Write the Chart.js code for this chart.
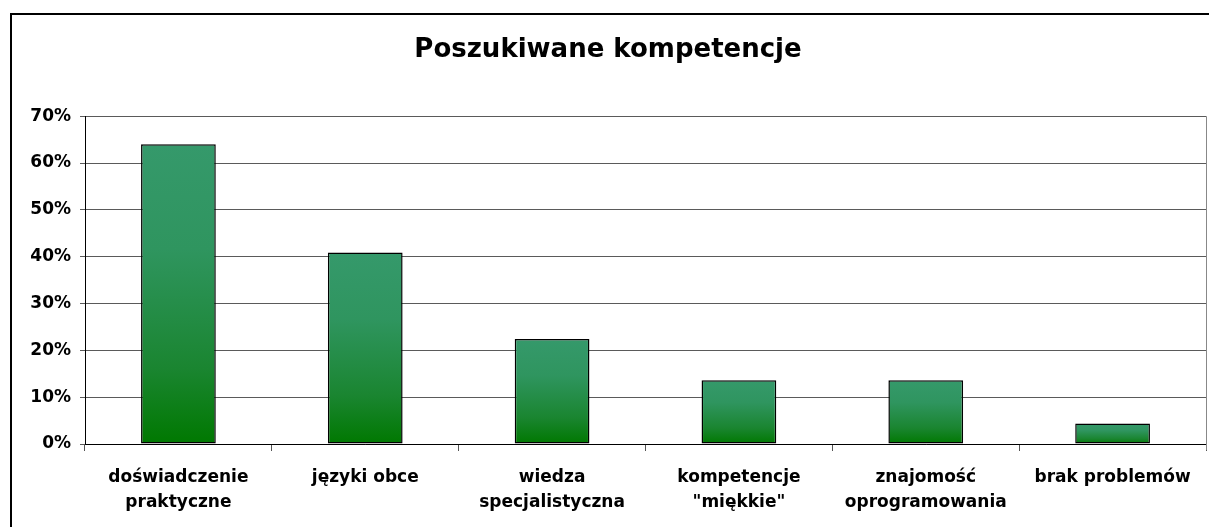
<!DOCTYPE html>
<html>
<head>
<meta charset="utf-8">
<script src="https://cdn.jsdelivr.net/npm/chart.js@4.4.1/dist/chart.umd.min.js"></script>
<style>
html,body{margin:0;padding:0;background:#fff;}
#wrap{width:1209px;height:527px;position:relative;}
</style>
</head>
<body>
<div id="wrap"><canvas id="c" width="1209" height="527"></canvas></div>
<script>
const titleText = 'Poszukiwane kompetencje';
const categories = [
  ['doświadczenie', 'praktyczne'],
  'języki obce',
  ['wiedza', 'specjalistyczna'],
  ['kompetencje', '"miękkie"'],
  ['znajomość', 'oprogramowania'],
  'brak problemów'
];
const values = [64.0, 40.9, 22.4, 13.6, 13.6, 4.4];
const yTicks = [0, 10, 20, 30, 40, 50, 60, 70];

const FONT = "'DejaVu Sans', Verdana, sans-serif";

function barGradient(ctx) {
  const chart = ctx.chart;
  const area = chart.chartArea;
  if (!area || ctx.dataIndex === undefined) return '#2e9360';
  const y = chart.scales.y;
  const v = ctx.raw;
  const top = y.getPixelForValue(v);
  const bottom = y.getPixelForValue(0);
  const g = chart.ctx.createLinearGradient(0, top, 0, bottom);
  g.addColorStop(0, '#35996b');
  g.addColorStop(0.35, '#2f955f');
  g.addColorStop(0.75, '#1a8530');
  g.addColorStop(1, '#007800');
  return g;
}

const framePlugin = {
  id: 'frame',
  beforeDraw(chart) {
    const c = chart.ctx;
    c.save();
    c.fillStyle = '#fff';
    c.fillRect(0, 0, chart.width, chart.height);
    c.restore();
  },
  afterDraw(chart) {
    const c = chart.ctx;
    const a = chart.chartArea;
    c.save();
    c.strokeStyle = '#000';
    c.lineWidth = 2;
    c.beginPath();
    c.moveTo(11, chart.height);
    c.lineTo(11, 14);
    c.lineTo(chart.width, 14);
    c.stroke();
    c.strokeStyle = '#888';
    c.lineWidth = 1;
    c.beginPath();
    c.moveTo(Math.round(a.right) + 0.5, a.top);
    c.lineTo(Math.round(a.right) + 0.5, a.bottom + 6);
    c.stroke();
    c.restore();
  }
};

new Chart(document.getElementById('c'), {
  type: 'bar',
  data: {
    labels: categories,
    datasets: [{
      data: values,
      backgroundColor: barGradient,
      borderColor: '#000',
      borderWidth: 1.5,
      borderSkipped: false,
      categoryPercentage: 0.8,
      barPercentage: 0.5
    }]
  },
  options: {
    responsive: false,
    animation: false,
    devicePixelRatio: 1,
    layout: { padding: { left: 10, right: 3, top: 14, bottom: 0 } },
    plugins: {
      legend: { display: false },
      tooltip: { enabled: false },
      title: {
        display: true,
        text: titleText,
        color: '#000',
        font: { family: FONT, size: 26, weight: 'bold', lineHeight: 1.2 },
        padding: { top: 21, bottom: 50 }
      }
    },
    scales: {
      x: {
        grid: {
          offset: true,
          drawOnChartArea: false,
          drawTicks: true,
          tickLength: 7,
          color: '#555'
        },
        border: { display: true, color: '#000', width: 1 },
        ticks: {
          color: '#000',
          maxRotation: 0,
          autoSkip: false,
          padding: 14,
          font: { family: FONT, size: 17, weight: 'bold', lineHeight: 1.47 }
        },
        afterFit(scale) { scale.height = 83; }
      },
      y: {
        min: 0,
        max: 70,
        afterBuildTicks(scale) { scale.ticks = yTicks.map(v => ({ value: v })); },
        grid: {
          color: '#5a5a5a',
          lineWidth: 1,
          tickLength: 5,
          drawTicks: true
        },
        border: { display: true, color: '#000', width: 1 },
        ticks: {
          color: '#000',
          padding: 9,
          font: { family: FONT, size: 17, weight: 'bold' },
          callback: v => v + '%'
        },
        afterFit(scale) { scale.width = 75; }
      }
    }
  },
  plugins: [framePlugin]
});
</script>
</body>
</html>
